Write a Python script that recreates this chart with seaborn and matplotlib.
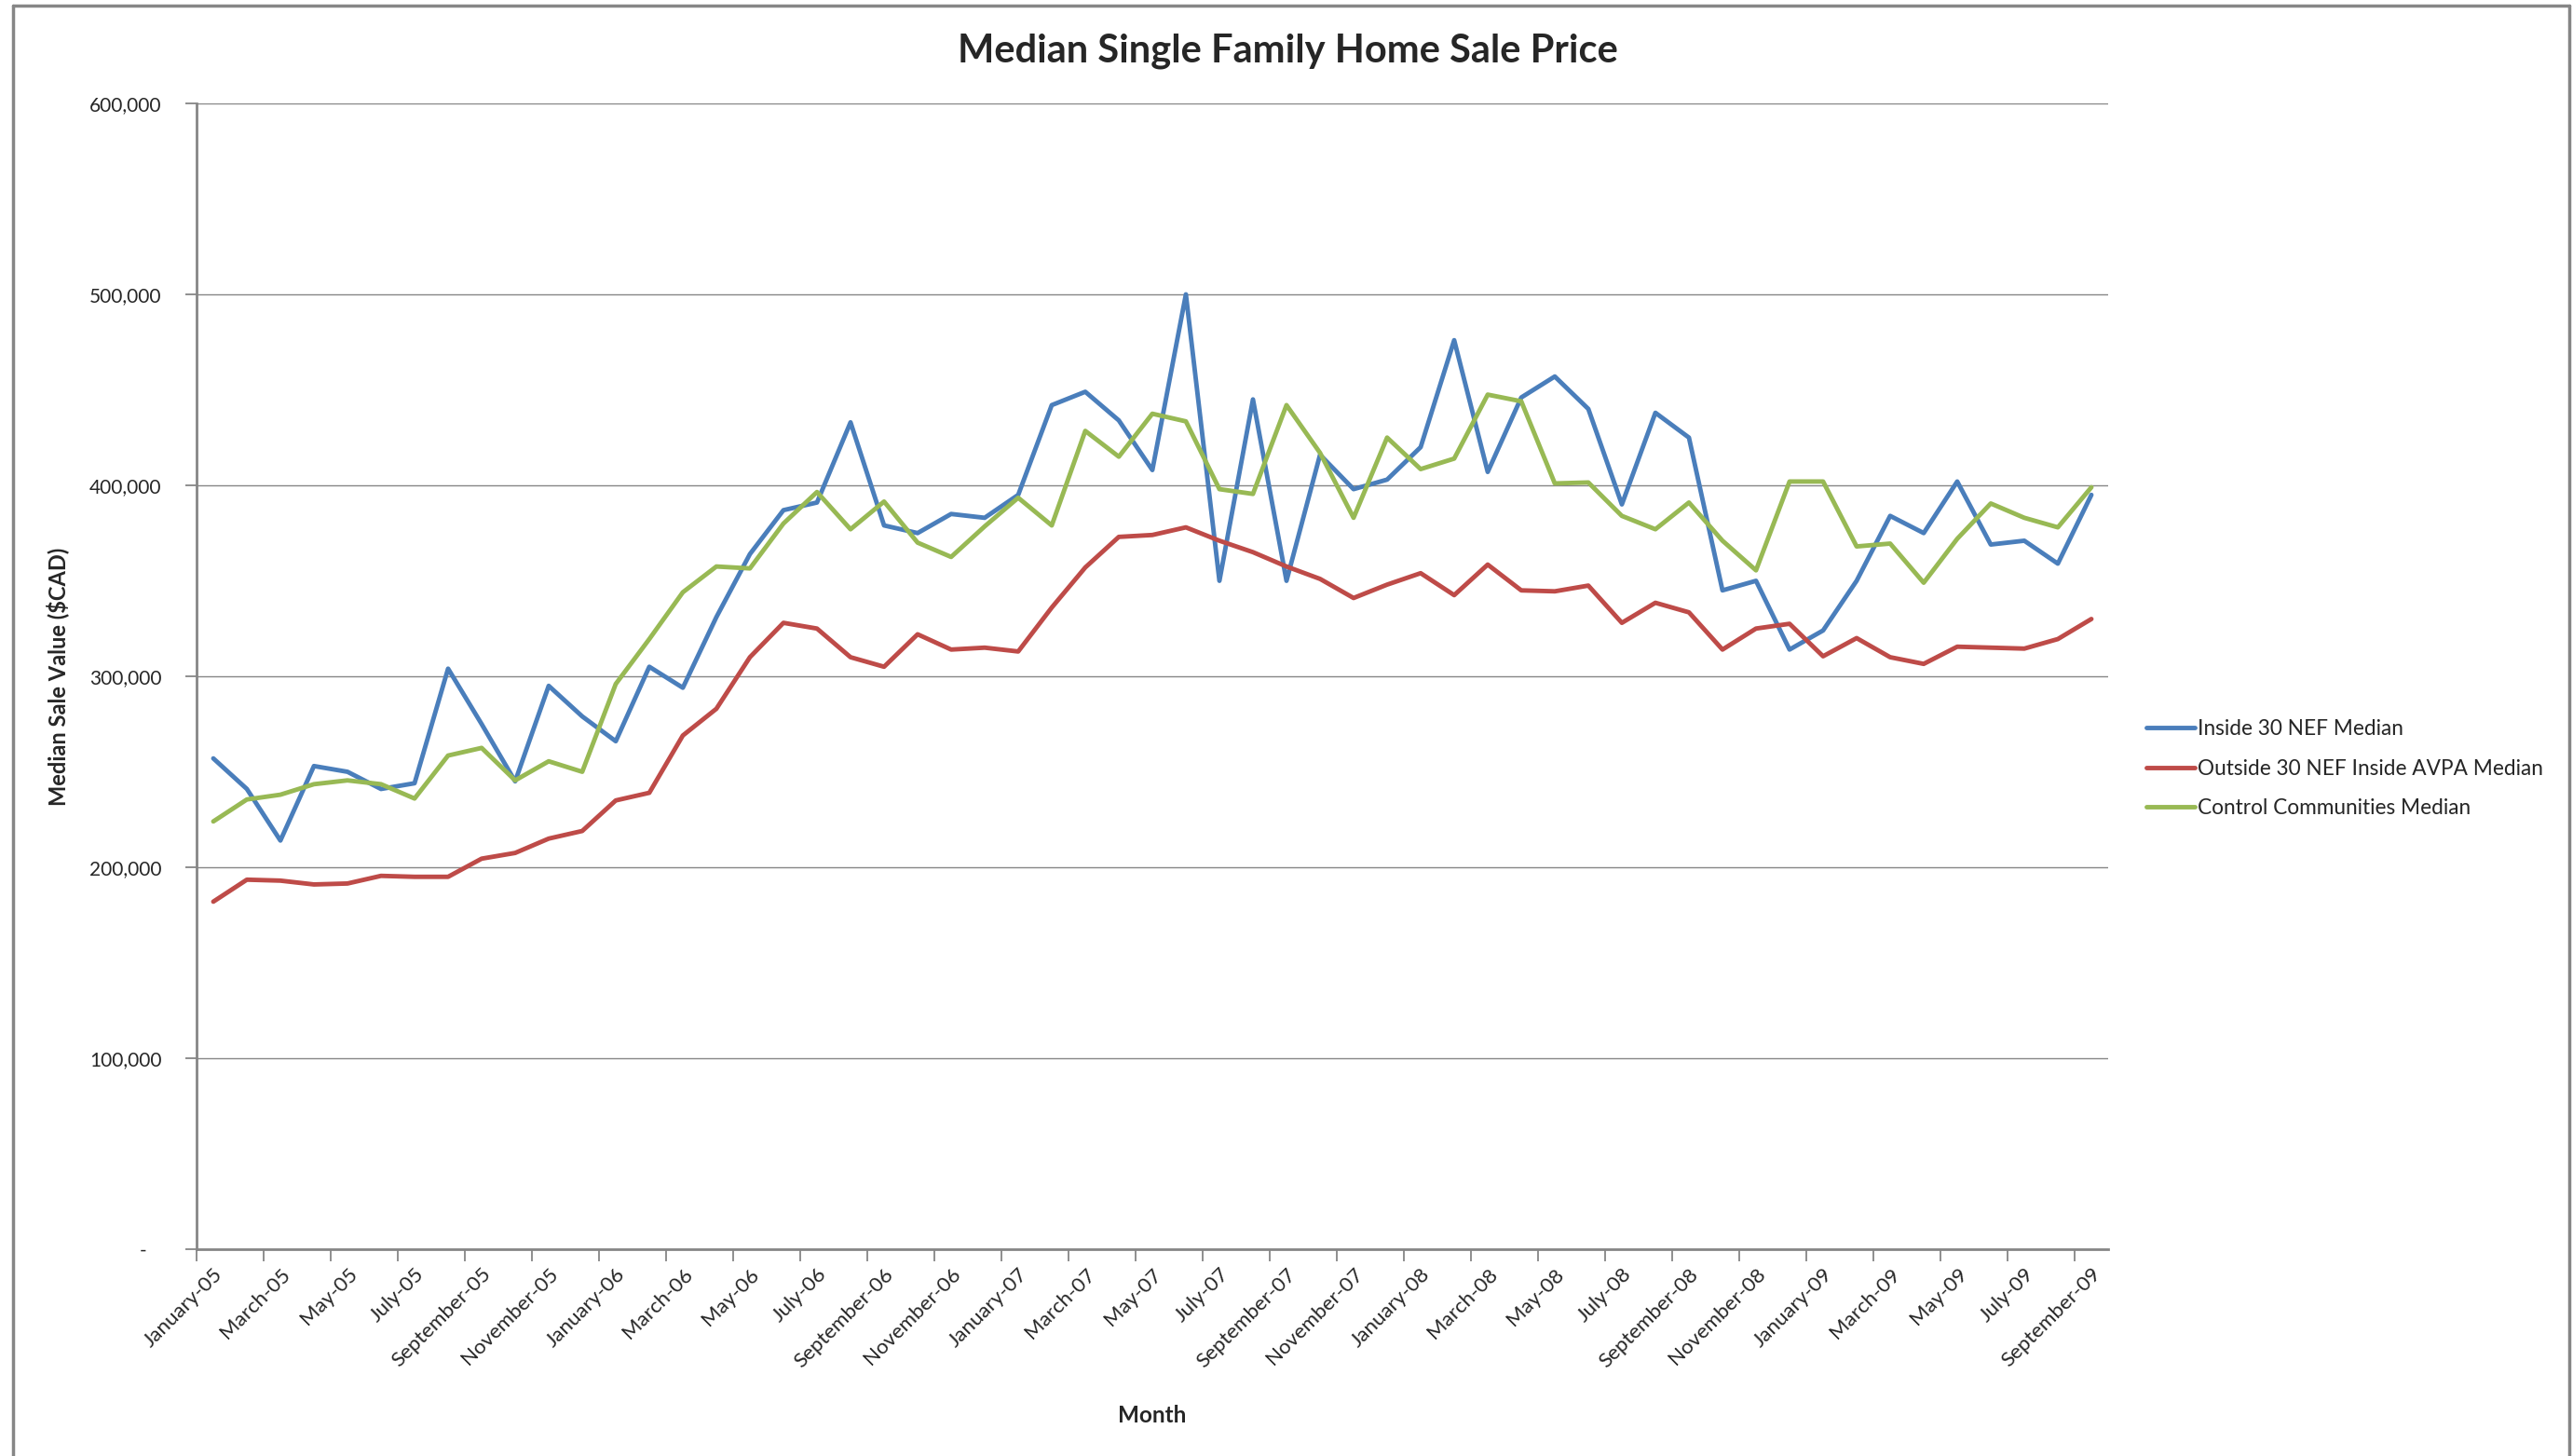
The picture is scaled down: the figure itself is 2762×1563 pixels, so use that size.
import numpy as np
import pandas as pd
import matplotlib
matplotlib.use("Agg")
import matplotlib.pyplot as plt
import seaborn as sns
from matplotlib.lines import Line2D
from matplotlib.ticker import FuncFormatter

# --- Data (median sale price, thousands of CAD) --- #
months = pd.date_range("2005-01-01", "2009-09-01", freq="MS").strftime("%B-%y").tolist()

inside_30_nef = [257, 241, 214, 253, 250, 241, 244, 304, 275, 245, 295, 279, 266, 305, 294,
                 331, 364, 387, 391, 433, 379, 375, 385, 383, 395, 442, 449, 434, 408, 500,
                 350, 445, 350, 416, 398, 403, 420, 476, 407, 446, 457, 440, 390, 438, 425,
                 345, 350, 314, 324, 350, 384, 375, 402, 369, 371, 359, 395]

outside_30_nef = [182, 193.5, 193, 191, 191.5, 195.5, 195, 195, 204.5, 207.5, 215, 219, 235, 239, 269,
                  283, 310, 328, 325, 310, 305, 322, 314, 315, 313, 336, 357, 373, 374, 378,
                  371, 365, 357.5, 351, 341, 348, 354, 342.5, 358.5, 345, 344.5, 347.5, 328, 338.5, 333.5,
                  314, 325, 327.5, 310.5, 320, 310, 306.5, 315.5, 315, 314.5, 319.5, 330]

control = [224, 235.5, 238, 243.5, 245.5, 243.5, 236, 258.5, 262.5, 245.5, 255.5, 250, 296, 319.5, 344,
           357.5, 356.5, 380, 396.5, 377, 391.5, 370, 362.5, 378.5, 393.5, 379, 428.5, 415, 437.5, 433.5,
           398, 395.5, 442, 417, 383, 425, 408.5, 414, 447.5, 444, 401, 401.5, 384, 377, 391,
           371, 355.5, 402, 402, 368, 369.5, 349, 372, 390.5, 383, 378, 399]

series_names = ["Inside 30 NEF Median", "Outside 30 NEF Inside AVPA Median", "Control Communities Median"]
colors = ["#4A7EBB", "#BE4B48", "#98B954"]

df = pd.DataFrame({series_names[0]: inside_30_nef,
                   series_names[1]: outside_30_nef,
                   series_names[2]: control})
df["pos"] = range(len(months))
long = df.melt(id_vars="pos", var_name="Series", value_name="Value")
long["Value"] = long["Value"] * 1000

# --- Plot --- #
sns.set_theme(style="white")
plt.rcParams["font.family"] = ["Lato", "DejaVu Sans"]

W, H = 2762, 1563
fig = plt.figure(figsize=(W / 100, H / 100), dpi=100)
ax = fig.add_axes([211 / W, 1 - 1341 / H, (2263 - 211) / W, (1341 - 111) / H])

sns.lineplot(data=long, x="pos", y="Value", hue="Series", hue_order=series_names,
             palette=dict(zip(series_names, colors)), linewidth=3.5, ax=ax)

grey = "#868686"
ax.set_xlim(-0.5, len(months) - 0.5)
ax.set_ylim(0, 600000)
ax.set_yticks(range(0, 600001, 100000))
ax.yaxis.set_major_formatter(FuncFormatter(lambda v, p: "-   " if v == 0 else f"{int(v):,}"))
ax.yaxis.grid(True, color=grey, linewidth=1.0)
ax.xaxis.grid(False)

ax.set_xticks(range(0, len(months), 2))
ax.set_xticklabels(months[::2], rotation=45, ha="right", rotation_mode="anchor", fontsize=16)
ax.set_xticks(np.arange(-0.5, len(months), 2), minor=True)
ax.tick_params(axis="x", which="major", length=0, pad=12)
ax.tick_params(axis="x", which="minor", length=9, width=1.3, color=grey, direction="out", bottom=True)
ax.tick_params(axis="y", length=9, width=1.3, color=grey, direction="out", left=True, pad=18, labelsize=15)

for side in ["top", "right"]:
    ax.spines[side].set_visible(False)
for side in ["left", "bottom"]:
    ax.spines[side].set_color(grey)
    ax.spines[side].set_linewidth(2)

ax.set_xlabel("Month", fontsize=17.5, fontweight="bold")
ax.xaxis.set_label_coords(0.5, -0.136)
ax.set_ylabel("Median Sale Value ($CAD)", fontsize=17, fontweight="bold")
ax.yaxis.set_label_coords(-0.0665, 0.5)

fig.text(0.5007, 1 - 55 / H, "Median Single Family Home Sale Price",
         ha="center", va="center", fontsize=30, fontweight="bold")

handles, labels = ax.get_legend_handles_labels()
ax.legend(handles, labels, loc="center left", bbox_to_anchor=(2304 / W, 1 - 825 / H),
          bbox_transform=fig.transFigure, frameon=False, fontsize=16.3, handlelength=2.3,
          handletextpad=0.15, labelspacing=0.95, borderpad=0, borderaxespad=0)

# chart area border
for xs, ys in [([14 / W, 14 / W], [0, 1 - 6 / H]),
               ([14 / W, 2758 / W], [1 - 6 / H, 1 - 6 / H]),
               ([2758 / W, 2758 / W], [0, 1 - 6 / H])]:
    fig.add_artist(Line2D(xs, ys, transform=fig.transFigure, color=grey, linewidth=2.5))

fig.savefig("out.png", dpi=100)
